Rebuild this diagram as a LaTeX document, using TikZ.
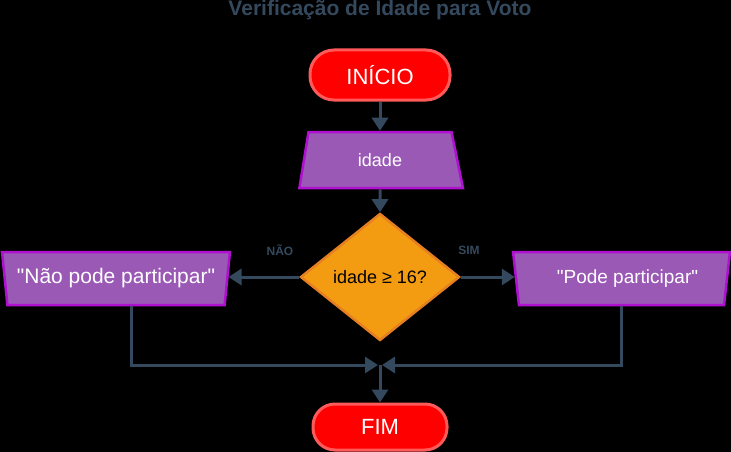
\documentclass[tikz,border=0pt]{standalone}
\usepackage{fontspec}
\setmainfont{Liberation Sans}[Ligatures=TeXOff]
\usetikzlibrary{shapes.geometric,arrows.meta}
\definecolor{slate}{HTML}{34495E}
\definecolor{termfill}{HTML}{FF0000}
\definecolor{termline}{HTML}{FF5A5A}
\definecolor{iofill}{HTML}{9B59B6}
\definecolor{ioline}{HTML}{B010D0}
\definecolor{decfill}{HTML}{F39C12}
\definecolor{decline}{HTML}{E67E22}
\newcommand{\fsz}[1]{\fontsize{#1}{#1}\selectfont}

\begin{document}
\begin{tikzpicture}[x=1pt,y=-1pt,
  terminal/.style={draw=termline,fill=termfill,line width=3pt,text=white,font=\fsz{22}},
  io/.style={trapezium,trapezium stretches=true,draw=ioline,fill=iofill,line width=2.5pt,inner sep=0pt,text=white},
  decision/.style={diamond,draw=decline,fill=decfill,line width=2.5pt,minimum width=159pt,minimum height=127pt,inner sep=0pt,font=\fsz{18}},
  tag/.style={text=slate,font=\bfseries\fsz{12}},
  arr/.style={draw=slate,line width=3pt,-{Triangle[length=13pt,width=16pt]}}]
  \path[use as bounding box,fill=black] (0,0) rectangle (731,452);
  \node[anchor=base,text=slate,font=\bfseries\fsz{21}] (title) at (380,16) {Verificação de Idade para Voto};
  \node[terminal,minimum width=140pt,minimum height=50pt,rounded corners=24pt] (inicio) at (380,75) {INÍCIO};
  \node[io,minimum width=164pt,minimum height=56pt,trapezium left angle=78,trapezium right angle=75,font=\fsz{18}] (idade) at (380,160) {idade};
  \node[decision] (teste) at (380,277) {idade ≥ 16?};
  \node[io,shape border rotate=180,minimum width=228pt,minimum height=53pt,trapezium left angle=76,trapezium right angle=76,font=\fsz{21}] (nao) at (116,278.5) {"Não pode participar"};
  \node[io,shape border rotate=180,minimum width=217pt,minimum height=53pt,trapezium left angle=76,trapezium right angle=76,font=\fsz{19}] (sim) at (621.5,278.5) {\hspace{12pt}"Pode participar"};
  \node[terminal,minimum width=134pt,minimum height=46pt,rounded corners=22pt] (fim) at (380,427) {FIM};
  \node[tag] (naolabel) at (280,250) {NÃO};
  \node[tag] (simlabel) at (469,250) {SIM};
  \coordinate (junta) at (380,365);
  \draw[arr] (inicio) -- (idade);
  \draw[arr] (idade) -- (teste);
  \draw[arr] (teste.west) -- (teste.west -| nao.east);
  \draw[arr] (teste.east) -- (teste.east -| sim.west);
  \draw[arr] ([xshift=15pt]nao.south) |- ([xshift=-2pt]junta);
  \draw[arr] (sim.south) |- ([xshift=2pt]junta);
  \draw[arr] (junta) -- (fim);
\end{tikzpicture}
\end{document}
